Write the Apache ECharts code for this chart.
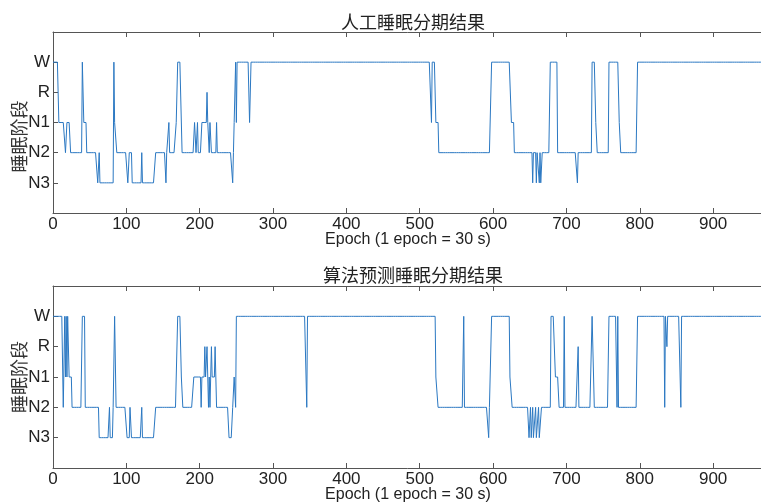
<!DOCTYPE html>
<html>
<head>
<meta charset="utf-8">
<script src="https://cdn.jsdelivr.net/npm/echarts@6/dist/echarts.min.js"></script>
<style>
html,body{margin:0;padding:0;background:#fff;}
#chart{width:761px;height:503px;}
</style>
</head>
<body>
<div id="chart"></div>
<script>
// Stage tick labels (value 1..5)
const stageLabels = ['N3', 'N2', 'N1', 'R', 'W'];
const xTicks = [0, 100, 200, 300, 400, 500, 600, 700, 800, 900];
const epochCount = 968;

// Manual scoring: run stage and last epoch of each run
const manualStages = ['W','N1','N2','N1','N2','W','N1','N2','N3','N2','N3','W','N1','N2','N3','N2','N3','N2','N3','N2','N3','N2','N1','N2','N1','W','N2',
  'N1','N2','N1','N2','N1','R','N1','N2','N1','N2','N1','N2','N3','N2','N1','W','N1','W','N1','W','N1','W','N1','N2','W','N1','N2',
  'N3','N2','N3','N2','N3','N2','N3','N2','W','N2','N3','N2','W','N1','N2','W','N1','N2','W'];
const manualEnds = [7,16,18,23,39,41,45,60,62,63,82,83,86,101,103,107,120,121,139,153,154,157,158,167,169,175,192,
  194,196,197,202,209,210,212,213,215,222,223,244,245,246,248,249,250,267,269,515,516,521,525,597,624,628,653,
  654,658,659,662,663,664,666,677,687,714,715,734,739,741,757,771,773,796,967];

// Algorithm prediction: run stage and last epoch of each run
const predStages = ['W','N2','W','N1','W','N1','W','N1','N2','W','N2','N3','N2','N3','N2','W','N2','N3','N2','N3','N2','N3','N2','N1','W','N1','N2',
  'N1','N2','N1','R','N1','R','N1','N2','N1','N2','N1','R','N1','R','N1','N2','N3','N2','N1','N2','W','N2','W','N1','N2','W','N2','N3','N2','W','N1','N2',
  'N3','N2','N3','N2','N3','N2','N3','N2','N3','N2','W','N1','N2','W','N2','R','N2','W','N2','W','N2','W','N2','W','N2','W','R','W','N2','W'];
const predEnds = [13,15,16,17,18,19,21,25,39,43,62,76,77,81,83,85,100,104,106,120,121,139,167,169,174,176,191,
  201,202,206,207,209,210,211,212,213,214,215,216,220,221,222,239,244,246,248,249,345,346,521,524,559,560,593,594,597,622,625,648,
  650,651,653,654,657,658,661,662,665,678,684,689,696,697,715,716,734,737,757,768,769,770,796,833,834,836,837,855,856,967];

const stageValue = {N3: 1, N2: 2, N1: 3, R: 4, W: 5};

function expand(stages, ends) {
  const pts = [];
  let start = 0;
  for (let i = 0; i < stages.length; i++) {
    for (let e = start; e <= ends[i]; e++) pts.push([e, stageValue[stages[i]]]);
    start = ends[i] + 1;
  }
  return pts;
}

const manualData = expand(manualStages, manualEnds);
const predData = expand(predStages, predEnds);

const axisColor = '#555';
const textColor = '#222';
const lineColor = '#2b78c2';
const tickFont = 'Liberation Sans, Arial, sans-serif';
const cjkFont = 'Noto Sans CJK SC, sans-serif';

const grids = [
  {left: 53, top: 32, width: 710, height: 181, outerBoundsMode: 'none', containLabel: false},
  {left: 53, top: 286, width: 710, height: 182, outerBoundsMode: 'none', containLabel: false}
];

function xAxes(gi) {
  return [
    {
      gridIndex: gi, type: 'value', position: 'bottom', min: 0, max: epochCount, interval: 100,
      name: 'Epoch (1 epoch = 30 s)', nameLocation: 'middle', nameGap: 19, nameMoveOverlap: false,
      nameTextStyle: {fontFamily: tickFont, fontSize: 16, color: textColor},
      axisLine: {show: true, lineStyle: {color: axisColor}},
      axisTick: {show: true, inside: true, length: 5, lineStyle: {color: axisColor}},
      axisLabel: {margin: 3, fontFamily: tickFont, fontSize: 17, color: textColor,
        formatter: v => xTicks.indexOf(v) >= 0 ? String(v) : ''},
      splitLine: {show: false}
    },
    {
      gridIndex: gi, type: 'value', position: 'top', min: 0, max: epochCount, interval: 100,
      axisLine: {show: true, lineStyle: {color: axisColor}},
      axisTick: {show: true, inside: true, length: 5, lineStyle: {color: axisColor}},
      axisLabel: {show: false},
      splitLine: {show: false}
    }
  ];
}

function yAxis(gi, pad) {
  return {
    gridIndex: gi, type: 'value', min: 0, max: 6, interval: 1,
    name: '睡眠阶段', nameLocation: 'middle', nameGap: 25, nameMoveOverlap: false,
    nameTextStyle: {fontFamily: cjkFont, fontSize: 18, color: '#333', padding: pad},
    axisLine: {show: true, lineStyle: {color: axisColor}},
    axisTick: {show: true, inside: true, length: 5, lineStyle: {color: axisColor}},
    axisLabel: {margin: 3, fontFamily: tickFont, fontSize: 17, color: textColor,
      formatter: v => (v >= 1 && v <= 5) ? stageLabels[v - 1] : ''},
    splitLine: {show: false}
  };
}

const chart = echarts.init(document.getElementById('chart'), null, {renderer: 'canvas'});
chart.setOption({
  animation: false,
  backgroundColor: '#fff',
  title: [
    {text: '人工睡眠分期结果', left: 408, top: 8, textAlign: 'center',
      textStyle: {fontFamily: cjkFont, fontSize: 18, fontWeight: 'normal', color: textColor}},
    {text: '算法预测睡眠分期结果', left: 408, top: 261, textAlign: 'center',
      textStyle: {fontFamily: cjkFont, fontSize: 18, fontWeight: 'normal', color: textColor}}
  ],
  grid: grids,
  xAxis: [...xAxes(0), ...xAxes(1)],
  yAxis: [yAxis(0, [0, 28, 0, 0]), yAxis(1, 0)],
  series: [
    {type: 'line', xAxisIndex: 0, yAxisIndex: 0, data: manualData, showSymbol: false,
      lineStyle: {color: lineColor, width: 1}, itemStyle: {color: lineColor}},
    {type: 'line', xAxisIndex: 2, yAxisIndex: 1, data: predData, showSymbol: false,
      lineStyle: {color: lineColor, width: 1}, itemStyle: {color: lineColor}}
  ]
});
</script>
</body>
</html>
